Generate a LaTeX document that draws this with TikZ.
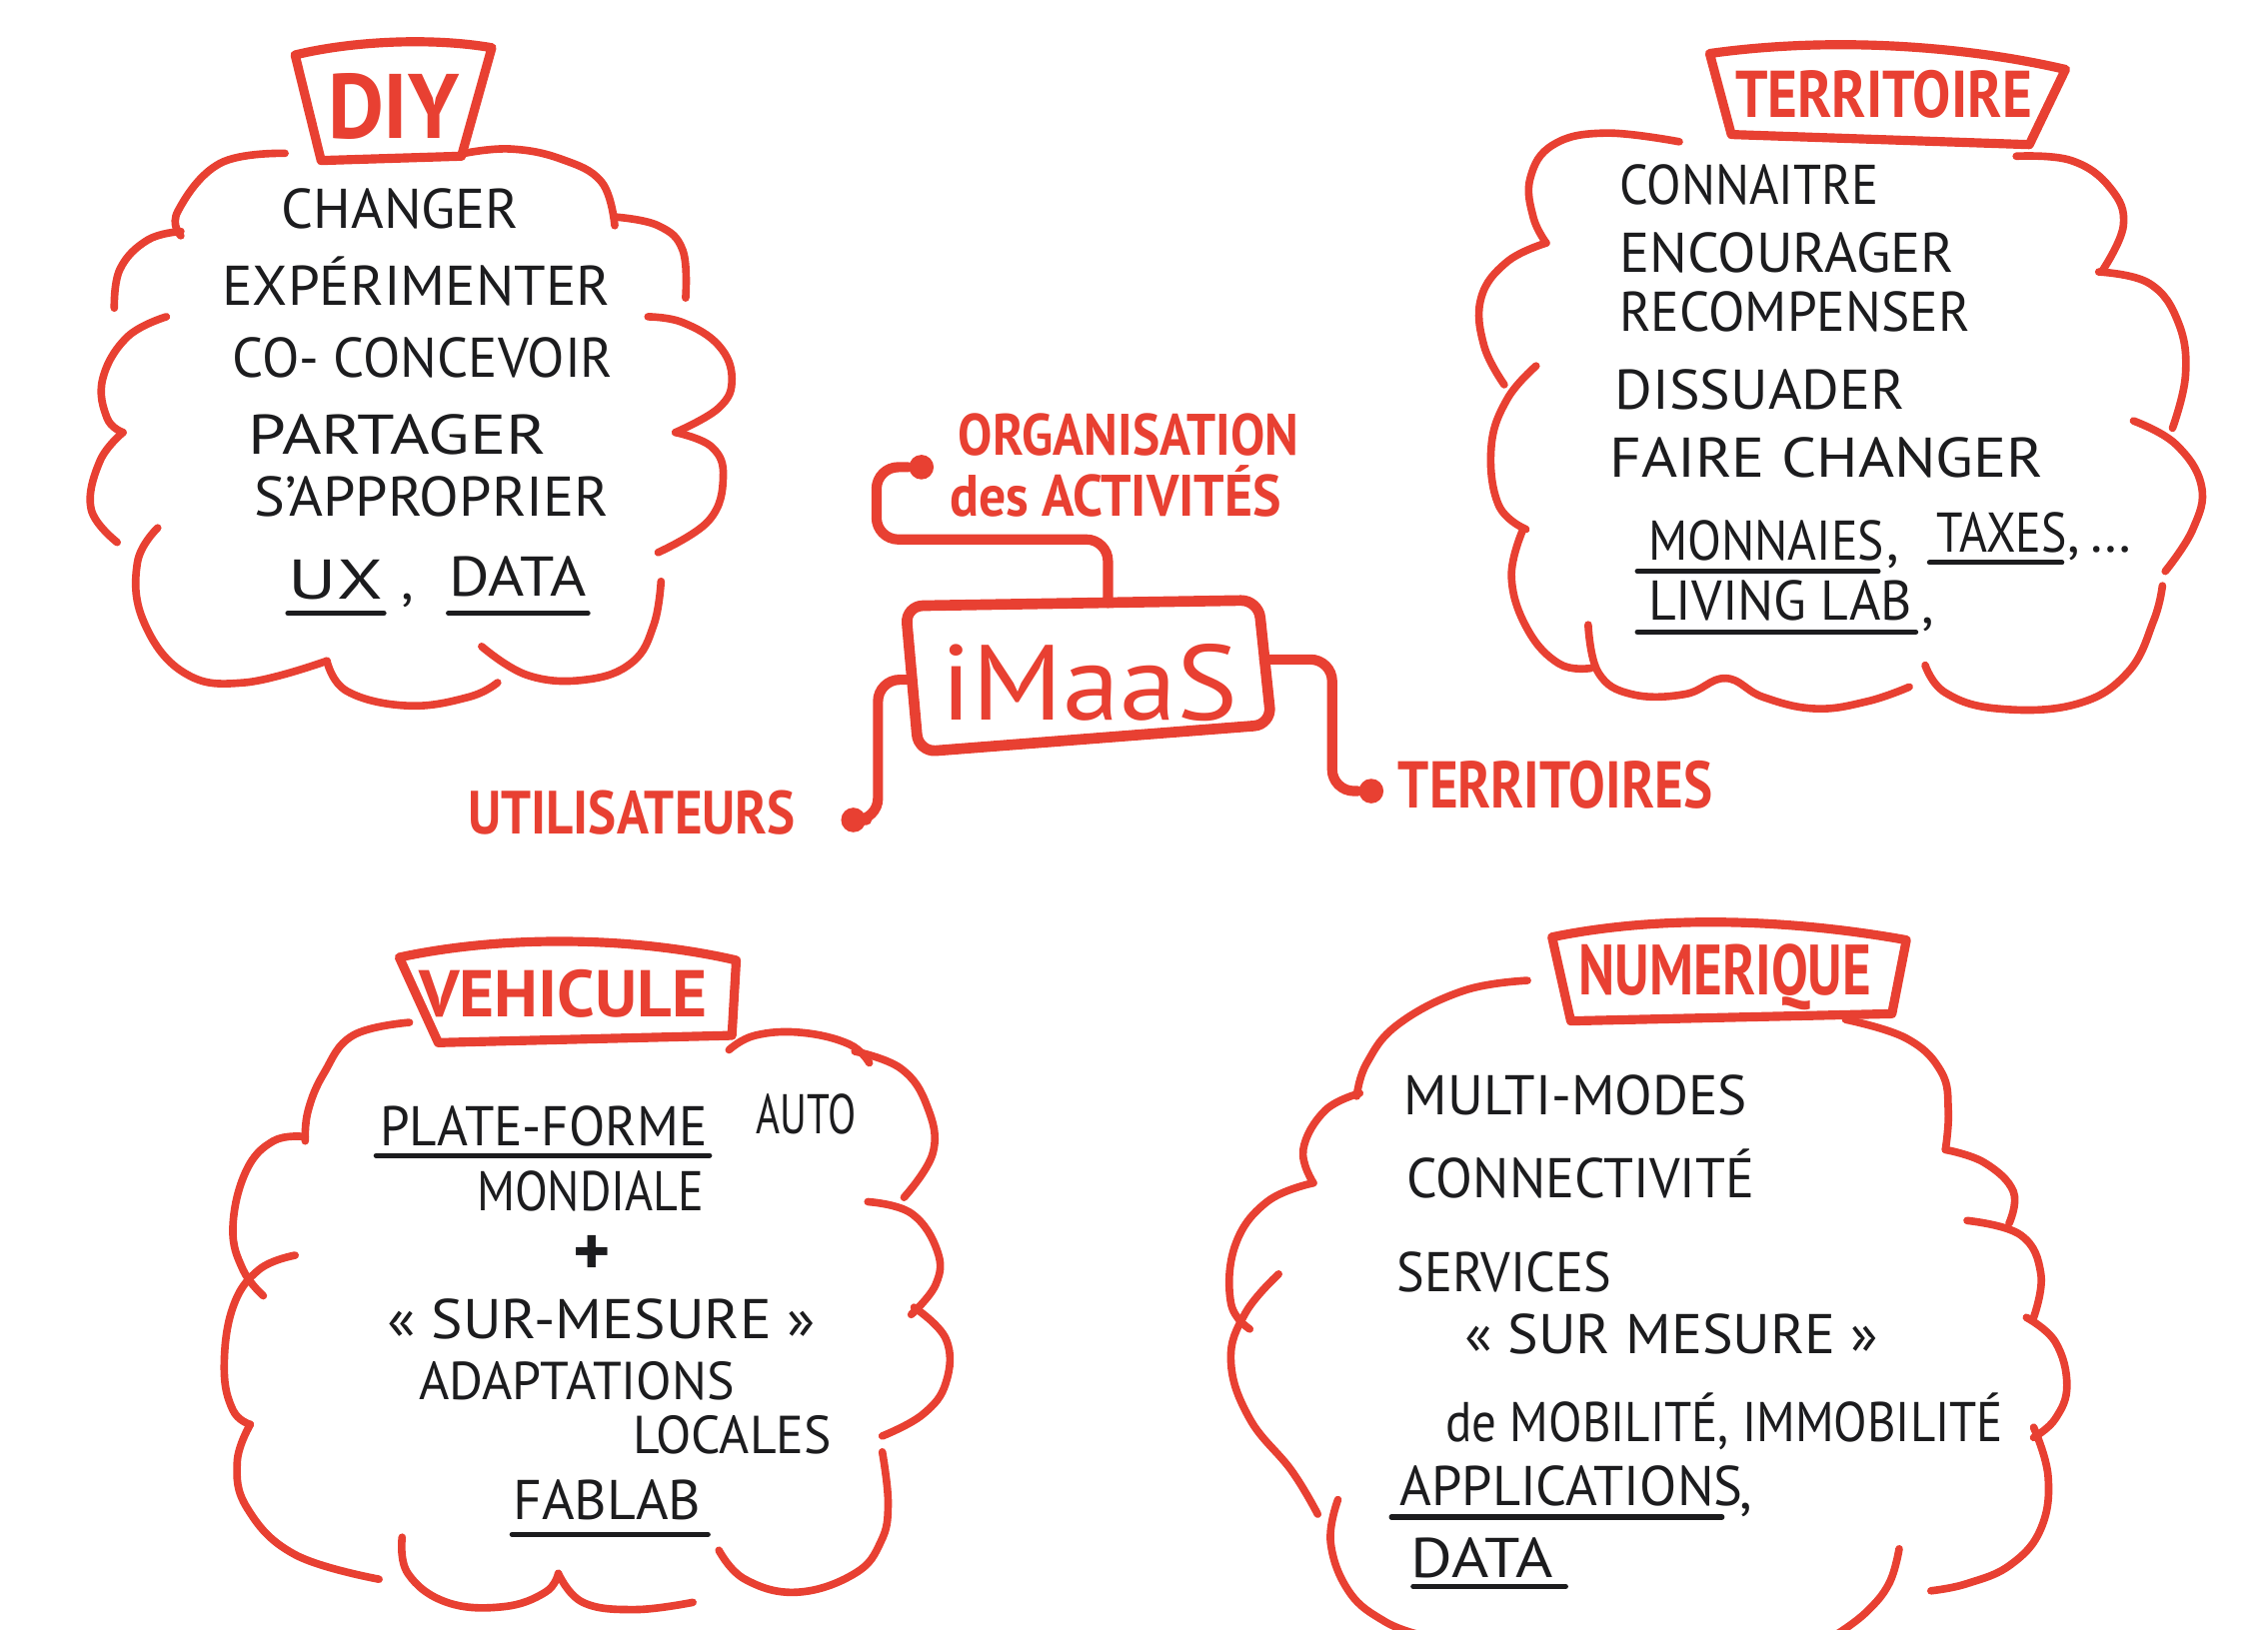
\documentclass[tikz,border=0pt]{standalone}
\usepackage{fontspec}
\usepackage{graphicx}
\setmainfont{PT Sans}
\usetikzlibrary{calc}
\definecolor{marker}{RGB}{232,64,50}
\definecolor{ink}{RGB}{28,28,30}
% set a text to a given width (in 0.01cm units), keeping its height
\newlength\hwlen
\newcommand\hw[2]{\settowidth\hwlen{#2}\pgfmathsetmacro\hwsc{#1*0.284528/\hwlen}\scalebox{\hwsc}[1]{#2}}
\tikzset{
  cloudline/.style={draw=marker, line width=1.5pt, line cap=round, line join=round},
  tbox/.style={draw=marker, line width=1.8pt, line cap=round, line join=round},
  conn/.style={draw=marker, line width=2pt, line cap=round, rounded corners=0.15cm},
  hand/.style={text=ink, inner sep=0pt, anchor=base west, font=\fontsize{11}{13}\selectfont},
  redlbl/.style={text=marker, inner sep=0pt, anchor=base west},
  uline/.style={draw=ink, line width=1pt, line cap=round},
  dotnode/.style={circle, fill=marker, inner sep=0pt, minimum size=0.17cm},
}
\begin{document}
\begin{tikzpicture}[x=0.01cm, y=-0.01cm]
\fill[white] (0,0) rectangle (1568,1127);
\useasboundingbox (0,0) rectangle (1568,1127);

% ---------- DIY ----------
\draw[tbox] (204,38) .. controls (245,28) and (300,26) .. (340,33) -- (319,108) -- (222,111) -- cycle;
\node[redlbl, font=\bfseries\fontsize{18}{20}\selectfont] (diy) at (226,96) {\hw{91}{DIY}};
\foreach \s in {
  {(197,106) (152,113) (123,146) (125,163)},
  {(125,160) (102,166) (83,186) (79,213)},
  {(115,219) (88,233) (71,262) (74,289) (85,299)},
  {(85,299) (69,319) (63,352) (81,375)},
  {(109,365) (95,389) (99,429) (127,465) (169,472) (226,457)},
  {(226,457) (240,478) (282,488) (324,482) (344,472)},
  {(333,447) (365,467) (405,470) (437,458) (452,432) (457,402)},
  {(455,382) (490,360) (500,330) (492,309) (467,299)},
  {(467,299) (497,282) (506,262) (497,239) (472,223) (448,219)},
  {(474,206) (472,173) (455,156) (425,150)},
  {(425,156) (416,126) (388,110) (353,103) (321,106)}}
  \draw[cloudline] plot[smooth, tension=0.7] coordinates \s;
\node[hand] (d1) at (194,158) {\hw{164}{CHANGER}};
\node[hand] (d2) at (153,211) {\hw{268}{EXPÉRIMENTER}};
\node[hand] (d3) at (160,261) {\hw{263}{CO- CONCEVOIR}};
\node[hand] (d4) at (171,314) {\hw{206}{PARTAGER}};
\node[hand] (d5) at (175,357) {\hw{245}{S’APPROPRIER}};
\node[hand] (d6) at (199,414) {\hw{65}{UX}};
\node[hand] (d7) at (277,414) {,};
\node[hand] (d8) at (310,412) {\hw{95}{DATA}};
\draw[uline] ($(d6.base west)+(0,10)$) -- ($(d6.base east)+(0,10)$);
\draw[uline] ($(d8.base west)+(0,12)$) -- ($(d8.base east)+(0,12)$);

% ---------- TERRITOIRE ----------
\draw[tbox] (1182,37) .. controls (1260,26) and (1350,30) .. (1428,48) -- (1403,100) -- (1197,93) -- cycle;
\node[redlbl, font=\bfseries\fontsize{13}{15}\selectfont] (terr) at (1199,81) {\hw{205}{TERRITOIRE}};
\foreach \s in {
  {(1161,98) (1110,92) (1074,100) (1058,123) (1060,150) (1069,168)},
  {(1069,168) (1042,181) (1024,206) (1026,239) (1040,266)},
  {(1062,253) (1042,276) (1031,309) (1036,349) (1055,366)},
  {(1053,366) (1045,399) (1056,435) (1078,459) (1100,462)},
  {(1098,432) (1105,465) (1128,480) (1165,480) (1193,469) (1219,482) (1255,490) (1291,485) (1320,475)},
  {(1331,460) (1345,479) (1381,490) (1435,487) (1471,465) (1489,429) (1495,405)},
  {(1475,291) (1504,307) (1522,336) (1516,366) (1497,395)},
  {(1451,188) (1486,196) (1506,223) (1511,259) (1502,296)},
  {(1394,108) (1432,111) (1459,130) (1468,156) (1453,188)}}
  \draw[cloudline] plot[smooth, tension=0.7] coordinates \s;
\node[hand] (t1) at (1119,141) {\hw{179}{CONNAITRE}};
\node[hand] (t2) at (1119,188) {\hw{231}{ENCOURAGER}};
\node[hand] (t3) at (1119,229) {\hw{242}{RECOMPENSER}};
\node[hand] (t4) at (1116,283) {\hw{200}{DISSUADER}};
\node[hand] (t5) at (1112,330) {\hw{300}{FAIRE CHANGER}};
\node[hand] (t6) at (1139,387) {\hw{163}{MONNAIES}};
\node[hand] (t7) at (1304,387) {,};
\node[hand] (t8) at (1338,382) {\hw{90}{TAXES}};
\node[hand] (t9) at (1429,382) {,\,…};
\node[hand] (t10) at (1139,429) {\hw{182}{LIVING LAB}};
\node[hand] (t11) at (1328,431) {,};
\draw[uline] ($(t6.base west)+(-7,8)$) -- ($(t6.base east)+(-5,8)$);
\draw[uline] ($(t8.base west)+(-4,7)$) -- ($(t8.base east)+(-4,7)$);
\draw[uline] ($(t10.base west)+(-7,8)$) -- ($(t10.base east)+(2,8)$);

% ---------- central node ----------
\coordinate (bTL) at (626,419);
\coordinate (bTR) at (870,415);
\coordinate (bBR) at (879,501);
\coordinate (bBL) at (635,520);
\draw[tbox, line width=2.1pt, rounded corners=0.12cm] (bTL) -- (bTR) -- (bBR) -- (bBL) -- cycle;
\node[redlbl, font=\fontsize{21}{24}\selectfont] (imaas) at (650,498) {\hw{205}{iMaaS}};
\coordinate (imtop) at (766,417);
\coordinate (imleft) at (630,470);
\coordinate (imright) at (874,456);

\node[dotnode] (orgdot) at (637,323) {};
\node[dotnode] (utildot) at (590,567) {};
\node[dotnode] (terrdot) at (948,547) {};
\draw[conn] (imtop) |- (606,373) |- (orgdot);
\draw[conn] (imleft) -| (607,567) -- (utildot);
\draw[conn] (imright) -| (921,547) -- (terrdot);

\node[redlbl, font=\bfseries\fontsize{11.5}{13}\selectfont] (org1) at (662,315) {\hw{235}{ORGANISATION}};
\node[redlbl, font=\bfseries\fontsize{11.5}{13}\selectfont] (org2) at (656,357) {\hw{229}{des ACTIVITÉS}};
\node[redlbl, font=\bfseries\fontsize{12}{14}\selectfont] (util) at (323,577) {\hw{226}{UTILISATEURS}};
\node[redlbl, font=\bfseries\fontsize{13}{15}\selectfont] (terrs) at (966,559) {\hw{217}{TERRITOIRES}};

% ---------- VEHICULE ----------
\draw[tbox] (276,662) .. controls (350,646) and (440,648) .. (509,664) -- (506,716) -- (303,721) -- cycle;
\node[redlbl, font=\bfseries\fontsize{13}{15}\selectfont] (veh) at (289,703) {\hw{199}{VEHICULE}};
\foreach \s in {
  {(283,707) (244,716) (224,742) (213,768) (211,789)},
  {(211,786) (189,789) (170,810) (161,849) (168,878) (182,896)},
  {(204,868) (179,878) (161,904) (155,946) (161,975) (173,985)},
  {(173,985) (164,1011) (171,1043) (204,1075) (262,1092)},
  {(278,1063) (282,1088) (309,1108) (348,1111) (377,1101) (386,1088)},
  {(386,1088) (403,1108) (439,1113) (479,1108)},
  {(497,1072) (515,1092) (551,1101) (591,1088) (609,1066) (614,1040) (610,1004)},
  {(610,993) (638,978) (654,956) (654,926) (632,904)},
  {(630,909) (647,888) (648,865) (630,839) (600,831)},
  {(625,828) (645,797) (641,765) (623,739) (591,727)},
  {(601,735) (587,722) (554,714) (522,716) (504,726)}}
  \draw[cloudline] plot[smooth, tension=0.7] coordinates \s;
\node[hand] (v1) at (262,792) {\hw{226}{PLATE-FORME}};
\node[hand] (v2) at (522,784) {\hw{69}{AUTO}};
\node[hand] (v3) at (329,837) {\hw{157}{MONDIALE}};
\node[hand, anchor=center, font=\bfseries\fontsize{14}{14}\selectfont] (v4) at (409,868) {+};
\node[hand] (v5) at (267,926) {\hw{296}{« SUR-MESURE »}};
\node[hand, font=\fontsize{10.5}{12}\selectfont] (v6) at (289,968) {\hw{218}{ADAPTATIONS}};
\node[hand, font=\fontsize{10.5}{12}\selectfont] (v7) at (437,1005) {\hw{137}{LOCALES}};
\node[hand] (v8) at (354,1051) {\hw{130}{FABLAB}};
\draw[uline] ($(v1.base west)+(-2,7)$) -- ($(v1.base east)+(1,7)$);
\draw[uline] ($(v8.base west)+(0,10)$) -- ($(v8.base east)+(4,10)$);

% ---------- NUMERIQUE ----------
\draw[tbox] (1073,648) .. controls (1150,632) and (1240,636) .. (1318,650) -- (1308,701) -- (1086,706) -- cycle;
\node[redlbl, font=\bfseries\fontsize{14}{16}\selectfont] (num) at (1091,688) {\hw{202}{NUMERIQUE}};
\foreach \s in {
  {(1056,678) (1012,685) (967,708) (945,735) (938,758)},
  {(940,756) (916,768) (901,795) (908,818)},
  {(908,818) (876,831) (854,861) (851,901) (864,919)},
  {(884,881) (861,908) (851,941) (864,981) (893,1017) (911,1047)},
  {(925,1037) (920,1067) (933,1101) (957,1121) (980,1130)},
  {(1276,705) (1318,718) (1342,741) (1347,768) (1345,795)},
  {(1345,795) (1372,804) (1392,824) (1389,846)},
  {(1360,844) (1397,854) (1411,881) (1406,911)},
  {(1401,911) (1421,928) (1429,958) (1421,981) (1406,994)},
  {(1406,987) (1416,1021) (1411,1057) (1390,1082) (1360,1095) (1335,1100)},
  {(1313,1071) (1306,1095) (1290,1115) (1270,1130)}}
  \draw[cloudline] plot[smooth, tension=0.7] coordinates \s;
\node[hand] (n1) at (970,771) {\hw{237}{MULTI-MODES}};
\node[hand] (n2) at (972,828) {\hw{240}{CONNECTIVITÉ}};
\node[hand] (n3) at (965,893) {\hw{148}{SERVICES}};
\node[hand] (n4) at (1012,936) {\hw{286}{« SUR MESURE »}};
\node[hand] (n5) at (999,997) {\hw{385}{de MOBILITÉ, IMMOBILITÉ}};
\node[hand] (n6) at (967,1041) {\hw{237}{APPLICATIONS}};
\node[hand] (n7) at (1202,1043) {,};
\node[hand] (n8) at (975,1091) {\hw{98}{DATA}};
\draw[uline] ($(n6.base west)+(-5,8)$) -- ($(n6.base east)+(-15,8)$);
\draw[uline] ($(n8.base west)+(2,6)$) -- ($(n8.base east)+(8,6)$);
\end{tikzpicture}
\end{document}
